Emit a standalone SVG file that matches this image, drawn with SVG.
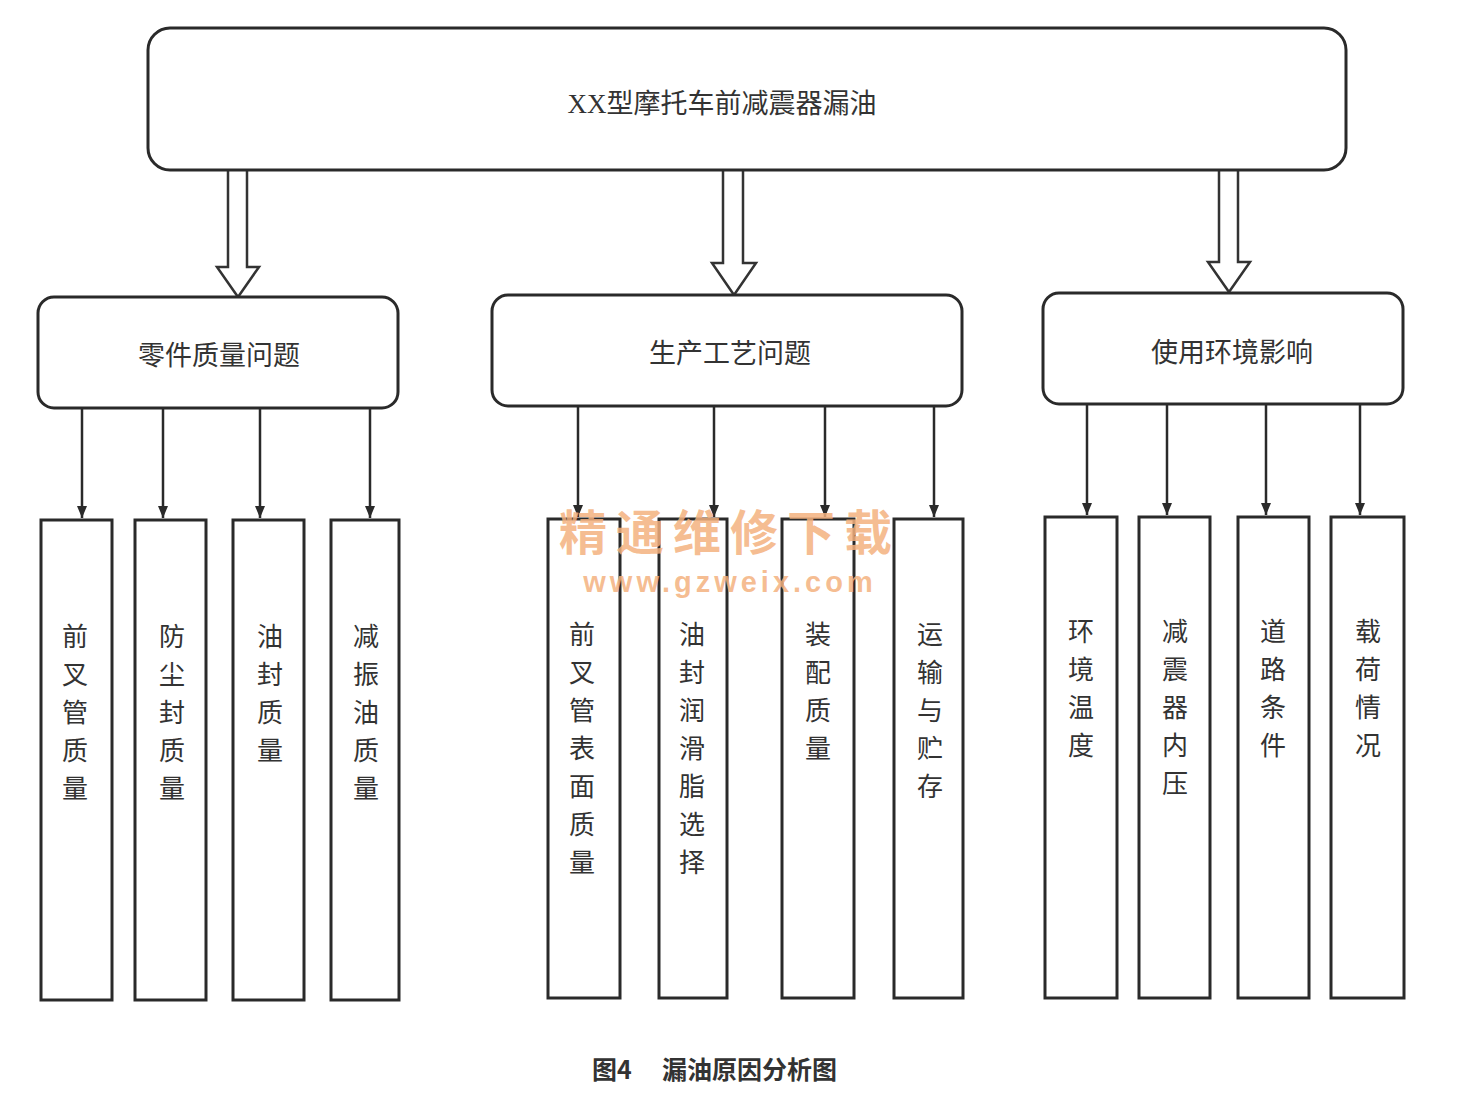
<svg xmlns="http://www.w3.org/2000/svg" width="1459" height="1104" viewBox="0 0 1459 1104">
<defs>
<style>
.box{fill:#fff;stroke:#2a2a2a;stroke-width:3}
.lbl{font-family:"Noto Sans CJK SC","Liberation Serif",sans-serif;font-size:27px;fill:#333;text-anchor:middle}
.vt{font-family:"Noto Sans CJK SC",sans-serif;font-size:26px;fill:#333;text-anchor:middle}
.conn{stroke:#2a2a2a;stroke-width:2.5;fill:none}
.hollow{fill:#fff;stroke:#333;stroke-width:2.5;stroke-linejoin:miter}
.wm{font-weight:bold;fill:#f4b17e;fill-opacity:0.85;text-anchor:middle}
.wm1{font-family:"Noto Sans CJK SC",sans-serif}
.wm2{font-family:"Liberation Sans",sans-serif}
</style>
<marker id="ah" viewBox="0 0 12 10" refX="12" refY="5" markerWidth="12" markerHeight="10" markerUnits="userSpaceOnUse" orient="auto">
<path d="M0,0 L12,5 L0,10 Z" fill="#2a2a2a"/>
</marker>
</defs>
<rect width="1459" height="1104" fill="#fff"/>

<g id="connectors">
<path class="hollow" d="M228,170 V267 H217 L238,297 L259,267 H247 V170"/>
<path class="hollow" d="M723,168 V263 H712 L734,295 L756,263 H743 V168"/>
<path class="hollow" d="M1219,168 V262 H1208 L1229,292 L1250,262 H1238 V168"/>
<line class="conn" x1="82" y1="408" x2="82" y2="518" marker-end="url(#ah)"/>
<line class="conn" x1="163" y1="408" x2="163" y2="518" marker-end="url(#ah)"/>
<line class="conn" x1="260" y1="408" x2="260" y2="518" marker-end="url(#ah)"/>
<line class="conn" x1="370" y1="408" x2="370" y2="518" marker-end="url(#ah)"/>
<line class="conn" x1="578" y1="406" x2="578" y2="517" marker-end="url(#ah)"/>
<line class="conn" x1="714" y1="406" x2="714" y2="517" marker-end="url(#ah)"/>
<line class="conn" x1="825" y1="406" x2="825" y2="517" marker-end="url(#ah)"/>
<line class="conn" x1="934" y1="406" x2="934" y2="517" marker-end="url(#ah)"/>
<line class="conn" x1="1087" y1="404" x2="1087" y2="515" marker-end="url(#ah)"/>
<line class="conn" x1="1167" y1="404" x2="1167" y2="515" marker-end="url(#ah)"/>
<line class="conn" x1="1266" y1="404" x2="1266" y2="515" marker-end="url(#ah)"/>
<line class="conn" x1="1360" y1="404" x2="1360" y2="515" marker-end="url(#ah)"/>
</g>

<g id="root">
<rect class="box" x="148" y="28" width="1198" height="142" rx="22"/>
<text class="lbl" x="722" y="113" font-size="28"><tspan font-family="Liberation Serif">XX</tspan>型摩托车前减震器漏油</text>
</g>

<g id="cat1">
<rect class="box" x="38" y="297" width="360" height="111" rx="16"/>
<text class="lbl" x="219" y="365">零件质量问题</text>
</g>
<g id="cat2">
<rect class="box" x="492" y="295" width="470" height="111" rx="16"/>
<text class="lbl" x="730" y="363">生产工艺问题</text>
</g>
<g id="cat3">
<rect class="box" x="1043" y="293" width="360" height="111" rx="16"/>
<text class="lbl" x="1232" y="362">使用环境影响</text>
</g>

<g id="leaf1"><rect class="box" x="41" y="520" width="71" height="480"/>
<text class="vt" x="75" y="646"><tspan x="75">前</tspan><tspan x="75" dy="38">叉</tspan><tspan x="75" dy="38">管</tspan><tspan x="75" dy="38">质</tspan><tspan x="75" dy="38">量</tspan></text></g>
<g id="leaf2"><rect class="box" x="135" y="520" width="71" height="480"/>
<text class="vt" x="172" y="646"><tspan x="172">防</tspan><tspan x="172" dy="38">尘</tspan><tspan x="172" dy="38">封</tspan><tspan x="172" dy="38">质</tspan><tspan x="172" dy="38">量</tspan></text></g>
<g id="leaf3"><rect class="box" x="233" y="520" width="71" height="480"/>
<text class="vt" x="270" y="646"><tspan x="270">油</tspan><tspan x="270" dy="38">封</tspan><tspan x="270" dy="38">质</tspan><tspan x="270" dy="38">量</tspan></text></g>
<g id="leaf4"><rect class="box" x="331" y="520" width="68" height="480"/>
<text class="vt" x="366" y="646"><tspan x="366">减</tspan><tspan x="366" dy="38">振</tspan><tspan x="366" dy="38">油</tspan><tspan x="366" dy="38">质</tspan><tspan x="366" dy="38">量</tspan></text></g>

<g id="leaf5"><rect class="box" x="548" y="519" width="72" height="479"/>
<text class="vt" x="582" y="644"><tspan x="582">前</tspan><tspan x="582" dy="38">叉</tspan><tspan x="582" dy="38">管</tspan><tspan x="582" dy="38">表</tspan><tspan x="582" dy="38">面</tspan><tspan x="582" dy="38">质</tspan><tspan x="582" dy="38">量</tspan></text></g>
<g id="leaf6"><rect class="box" x="659" y="519" width="68" height="479"/>
<text class="vt" x="692" y="644"><tspan x="692">油</tspan><tspan x="692" dy="38">封</tspan><tspan x="692" dy="38">润</tspan><tspan x="692" dy="38">滑</tspan><tspan x="692" dy="38">脂</tspan><tspan x="692" dy="38">选</tspan><tspan x="692" dy="38">择</tspan></text></g>
<g id="leaf7"><rect class="box" x="782" y="519" width="72" height="479"/>
<text class="vt" x="818" y="644"><tspan x="818">装</tspan><tspan x="818" dy="38">配</tspan><tspan x="818" dy="38">质</tspan><tspan x="818" dy="38">量</tspan></text></g>
<g id="leaf8"><rect class="box" x="894" y="519" width="69" height="479"/>
<text class="vt" x="930" y="644"><tspan x="930">运</tspan><tspan x="930" dy="38">输</tspan><tspan x="930" dy="38">与</tspan><tspan x="930" dy="38">贮</tspan><tspan x="930" dy="38">存</tspan></text></g>

<g id="leaf9"><rect class="box" x="1045" y="517" width="72" height="481"/>
<text class="vt" x="1081" y="641"><tspan x="1081">环</tspan><tspan x="1081" dy="38">境</tspan><tspan x="1081" dy="38">温</tspan><tspan x="1081" dy="38">度</tspan></text></g>
<g id="leaf10"><rect class="box" x="1139" y="517" width="71" height="481"/>
<text class="vt" x="1175" y="641"><tspan x="1175">减</tspan><tspan x="1175" dy="38">震</tspan><tspan x="1175" dy="38">器</tspan><tspan x="1175" dy="38">内</tspan><tspan x="1175" dy="38">压</tspan></text></g>
<g id="leaf11"><rect class="box" x="1238" y="517" width="71" height="481"/>
<text class="vt" x="1273" y="641"><tspan x="1273">道</tspan><tspan x="1273" dy="38">路</tspan><tspan x="1273" dy="38">条</tspan><tspan x="1273" dy="38">件</tspan></text></g>
<g id="leaf12"><rect class="box" x="1331" y="517" width="73" height="481"/>
<text class="vt" x="1368" y="641"><tspan x="1368">载</tspan><tspan x="1368" dy="38">荷</tspan><tspan x="1368" dy="38">情</tspan><tspan x="1368" dy="38">况</tspan></text></g>

<g id="watermark">
<text class="wm wm1" x="730" y="550" font-size="48" letter-spacing="9">精通维修下载</text>
<text class="wm wm2" x="730" y="592" font-size="29" letter-spacing="4">www.gzweix.com</text>
</g>

<g id="caption">
<text x="592" y="1079" font-family="Noto Sans CJK SC,sans-serif" font-size="25" font-weight="bold" fill="#333">图4<tspan x="662">漏油原因分析图</tspan></text>
</g>
</svg>
